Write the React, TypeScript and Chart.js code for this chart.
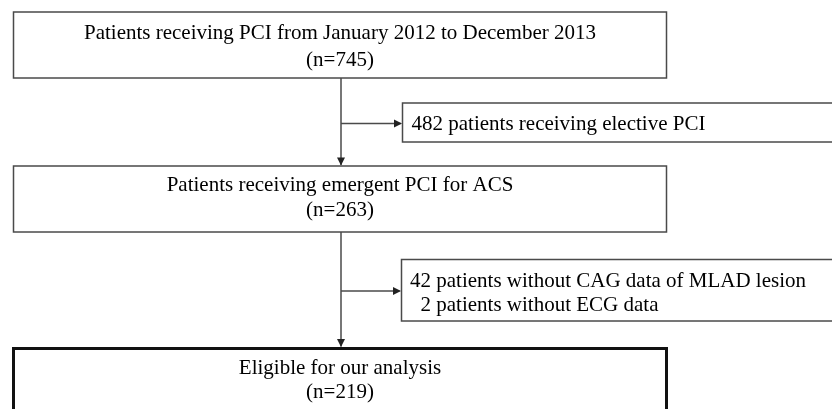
import React, { useEffect, useRef } from "react";
import { Chart, registerables } from "chart.js";

Chart.register(...registerables);

// ---- content ----
const mainTitles = [
  "Patients receiving PCI from January 2012 to December 2013",
  "Patients receiving emergent PCI for ACS",
  "Eligible for our analysis",
];
const mainCounts = [745, 263, 219];
const excludedLines = [
  ["482 patients receiving elective PCI"],
  ["42 patients without CAG data of MLAD lesion", "  2 patients without ECG data"],
];

// ---- layout (data-space units, 1 unit = 1 px) ----
const mainBoxX = [13.5, 666.5];
const mainBoxY = [
  [12, 78],
  [166, 232],
  [348.5, 425],
];
const mainBaselines = [
  [39, 66],
  [191, 216],
  [374, 398],
];
const exclBoxX = [
  [402.5, 845],
  [401.5, 845],
];
const exclBoxY = [
  [103, 142],
  [259.5, 321],
];
const exclBaselines = [[130], [287, 311]];
const exclTextX = [411.5, 410];
const stemX = 341;
const branchY = [123.5, 291];

const FONT = '21px "Liberation Serif", "Times New Roman", serif';

export default function App() {
  const ref = useRef<HTMLCanvasElement | null>(null);

  useEffect(() => {
    document.body.style.margin = "0";
    const canvas = ref.current!;
    const flowPlugin = {
      id: "flow",
      afterDraw(chart: any) {
        const ctx = chart.ctx as CanvasRenderingContext2D;
        const xs = chart.scales.x;
        const ys = chart.scales.y;
        const px = (v: number) => xs.getPixelForValue(v);
        const py = (v: number) => ys.getPixelForValue(v);
        ctx.save();
        ctx.fillStyle = "#ffffff";
        ctx.fillRect(0, 0, chart.width, chart.height);

        const thin = "#4a4a4a";
        const rect = (x0: number, y0: number, x1: number, y1: number, w: number, c: string) => {
          ctx.lineWidth = w;
          ctx.strokeStyle = c;
          ctx.strokeRect(px(x0), py(y0), px(x1) - px(x0), py(y1) - py(y0));
        };
        const line = (x0: number, y0: number, x1: number, y1: number) => {
          ctx.lineWidth = 1.5;
          ctx.strokeStyle = thin;
          ctx.beginPath();
          ctx.moveTo(px(x0), py(y0));
          ctx.lineTo(px(x1), py(y1));
          ctx.stroke();
        };
        const headDown = (x: number, y: number) => {
          ctx.fillStyle = "#222";
          ctx.beginPath();
          ctx.moveTo(px(x), py(y));
          ctx.lineTo(px(x - 4), py(y - 8));
          ctx.lineTo(px(x + 4), py(y - 8));
          ctx.closePath();
          ctx.fill();
        };
        const headRight = (x: number, y: number) => {
          ctx.fillStyle = "#222";
          ctx.beginPath();
          ctx.moveTo(px(x), py(y));
          ctx.lineTo(px(x - 8), py(y - 4));
          ctx.lineTo(px(x - 8), py(y + 4));
          ctx.closePath();
          ctx.fill();
        };

        // main boxes
        mainTitles.forEach((t, i) => {
          const last = i === mainTitles.length - 1;
          rect(mainBoxX[0], mainBoxY[i][0], mainBoxX[1], mainBoxY[i][1], last ? 3 : 1.5, last ? "#111" : thin);
          ctx.fillStyle = "#000";
          ctx.font = FONT;
          ctx.textAlign = "center";
          ctx.textBaseline = "alphabetic";
          const cx = (mainBoxX[0] + mainBoxX[1]) / 2;
          ctx.fillText(t, px(cx), py(mainBaselines[i][0]));
          ctx.fillText(`(n=${mainCounts[i]})`, px(cx), py(mainBaselines[i][1]));
        });

        // stems
        line(stemX, mainBoxY[0][1], stemX, mainBoxY[1][0] - 1);
        headDown(stemX, mainBoxY[1][0] - 0.5);
        line(stemX, mainBoxY[1][1], stemX, mainBoxY[2][0] - 2);
        headDown(stemX, mainBoxY[2][0] - 1.5);

        // exclusion boxes
        excludedLines.forEach((lines, i) => {
          rect(exclBoxX[i][0], exclBoxY[i][0], exclBoxX[i][1], exclBoxY[i][1], 1.5, thin);
          line(stemX, branchY[i], exclBoxX[i][0] - 2, branchY[i]);
          headRight(exclBoxX[i][0] - 0.5, branchY[i]);
          ctx.fillStyle = "#000";
          ctx.font = FONT;
          ctx.textAlign = "left";
          ctx.textBaseline = "alphabetic";
          lines.forEach((l, j) => {
            ctx.fillText(l, px(exclTextX[i]), py(exclBaselines[i][j]));
          });
        });
        ctx.restore();
      },
    };

    const chart = new Chart(canvas, {
      type: "scatter",
      data: { datasets: [{ data: [], pointRadius: 0 }] },
      options: {
        animation: false,
        responsive: false,
        events: [],
        layout: { padding: 0 },
        plugins: { legend: { display: false }, tooltip: { enabled: false } },
        scales: {
          x: { type: "linear", min: 0, max: 832, display: false },
          y: { type: "linear", min: 0, max: 409, reverse: true, display: false },
        },
      },
      plugins: [flowPlugin],
    });
    return () => chart.destroy();
  }, []);

  return (
    <div style={{ position: "absolute", left: 0, top: 0, width: 832, height: 409 }}>
      <canvas ref={ref} width={832} height={409} style={{ display: "block", width: 832, height: 409 }} />
    </div>
  );
}
